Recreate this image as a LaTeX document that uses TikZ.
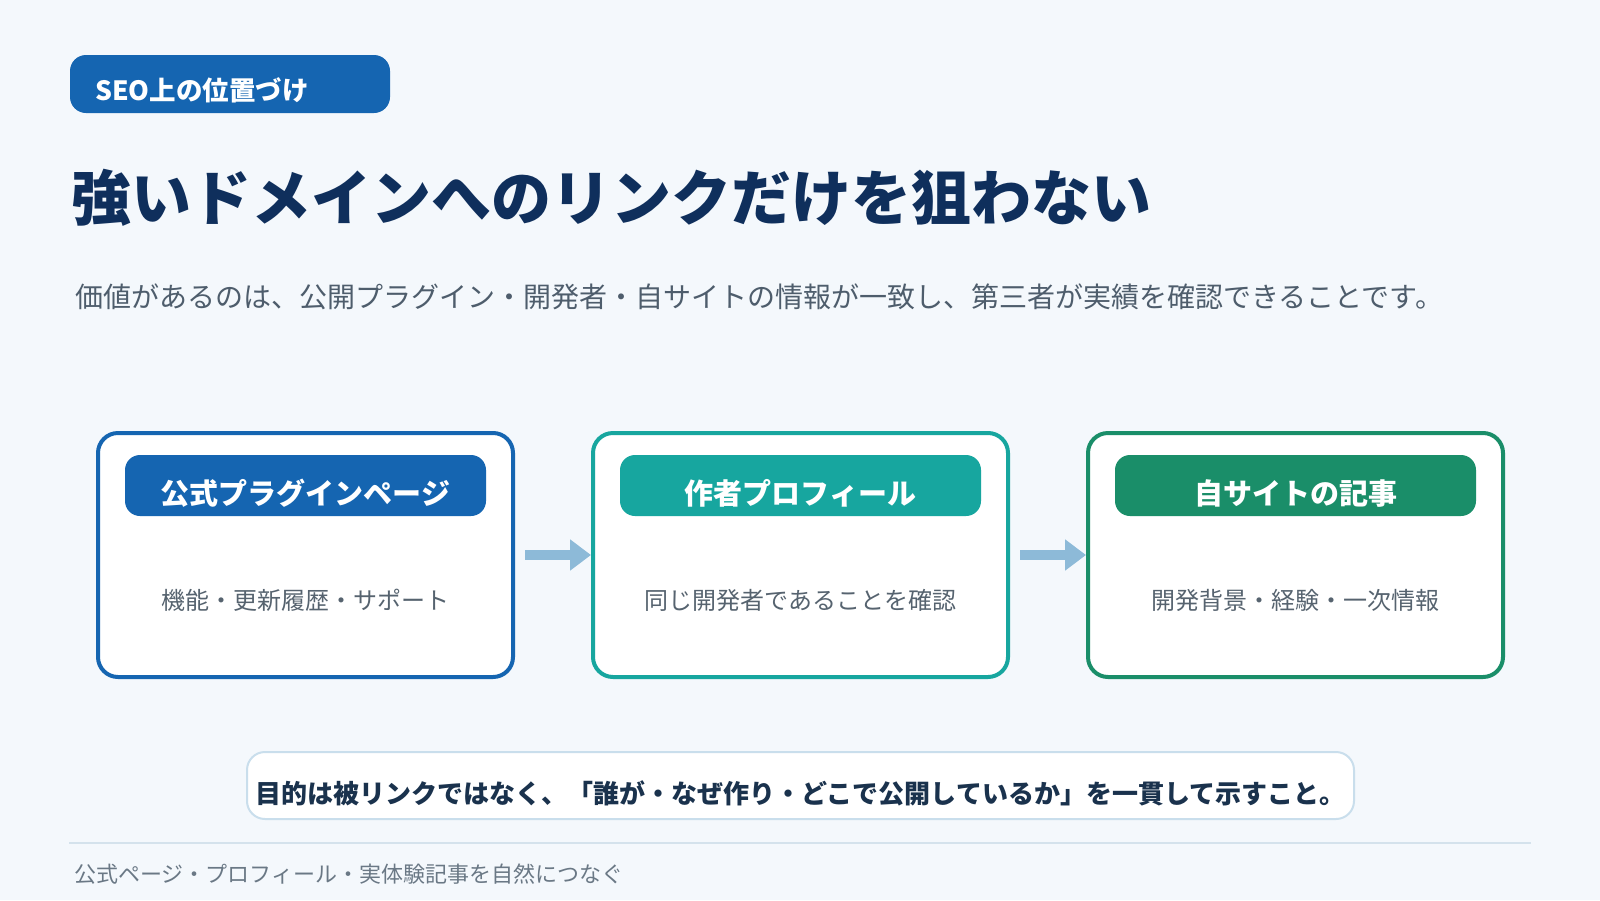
\documentclass[tikz,border=0pt]{standalone}
\usepackage{fontspec}
\setmainfont{Noto Sans CJK JP}
\usetikzlibrary{arrows.meta}
\definecolor{bg}{HTML}{F4F8FC}
\definecolor{cblue}{HTML}{1565B1}
\definecolor{cteal}{HTML}{17A69F}
\definecolor{cgreen}{HTML}{1A8E69}
\definecolor{titlec}{HTML}{0F2F5C}
\definecolor{subc}{HTML}{4E5D6C}
\definecolor{bodyc}{HTML}{56636F}
\definecolor{noteborder}{HTML}{C9DEEC}
\definecolor{notetext}{HTML}{1A324D}
\definecolor{divc}{HTML}{D4E2EC}
\definecolor{footc}{HTML}{6A7885}
\definecolor{arrowc}{HTML}{8DBAD8}
\begin{document}
\begin{tikzpicture}[x=1pt,y=-1pt,
  card/.style={draw, line width=4pt, rounded corners=20pt, fill=white, minimum width=415pt, minimum height=244pt, inner sep=0pt},
  pill/.style={rounded corners=15pt, minimum width=361pt, minimum height=61pt, inner sep=0pt},
  headtxt/.style={text=white, font=\bfseries\fontsize{29}{35}\selectfont, inner sep=0pt},
  bodytxt/.style={text=bodyc, font=\fontsize{24}{29}\selectfont, inner sep=0pt},
  flow/.style={draw=arrowc, line width=10pt, -{Triangle[length=21pt,width=30pt]}},
  lefttxt/.style={anchor=west, inner sep=0pt}
]
\fill[bg] (0,0) rectangle (1600,900);
\useasboundingbox (0,0) rectangle (1600,900);

% tag
\node[fill=cblue, rounded corners=16pt, minimum width=320pt, minimum height=58pt, inner sep=0pt] (tag) at (230,84) {};
\node[lefttxt, text=white, font=\bfseries\fontsize{26.5}{32}\selectfont] (tagtxt) at (95,90) {SEO上の位置づけ};

% title
\node[lefttxt, text=titlec, font=\bfseries\fontsize{60}{72}\selectfont] (title) at (71,198) {強いドメインへのリンクだけを狙わない};

% subtitle
\node[lefttxt, text=subc, font=\fontsize{28}{34}\selectfont] (sub) at (75,297) {価値があるのは、公開プラグイン・開発者・自サイトの情報が一致し、第三者が実績を確認できることです。};

% cards
\node[card, draw=cblue] (c1) at (305.5,555) {};
\node[card, draw=cteal] (c2) at (800.5,555) {};
\node[card, draw=cgreen] (c3) at (1295.5,555) {};

\node[pill, fill=cblue] (h1) at (305.5,485.5) {};
\node[pill, fill=cteal] (h2) at (800.5,485.5) {};
\node[pill, fill=cgreen] (h3) at (1295.5,485.5) {};

\node[headtxt] (h1t) at (305.5,493) {公式プラグインページ};
\node[headtxt] (h2t) at (800.5,493) {作者プロフィール};
\node[headtxt] (h3t) at (1295.5,493) {自サイトの記事};

\node[bodytxt] (b1) at (305.5,600) {機能・更新履歴・サポート};
\node[bodytxt] (b2) at (800.5,600) {同じ開発者であることを確認};
\node[bodytxt] (b3) at (1295.5,600) {開発背景・経験・一次情報};

\draw[flow] ([xshift=10pt]c1.east) -- (c2.west);
\draw[flow] ([xshift=10pt]c2.east) -- (c3.west);

% note
\node[draw=noteborder, line width=2pt, fill=white, rounded corners=18pt, minimum width=1107pt, minimum height=67pt, inner sep=0pt] (note) at (800.5,785.5) {};
\node[text=notetext, font=\bfseries\fontsize{26}{31}\selectfont, inner sep=0pt] (notet) at (800.5,793) {目的は被リンクではなく、「誰が・なぜ作り・どこで公開しているか」を一貫して示すこと。};

% divider
\coordinate (dl) at (69,843);
\coordinate (dr) at (1531,843);
\draw[divc, line width=2pt] (dl) -- (dr);

% footer
\node[lefttxt, text=footc, font=\fontsize{22}{27}\selectfont] (foot) at (74,874) {公式ページ・プロフィール・実体験記事を自然につなぐ};
\end{tikzpicture}
\end{document}
